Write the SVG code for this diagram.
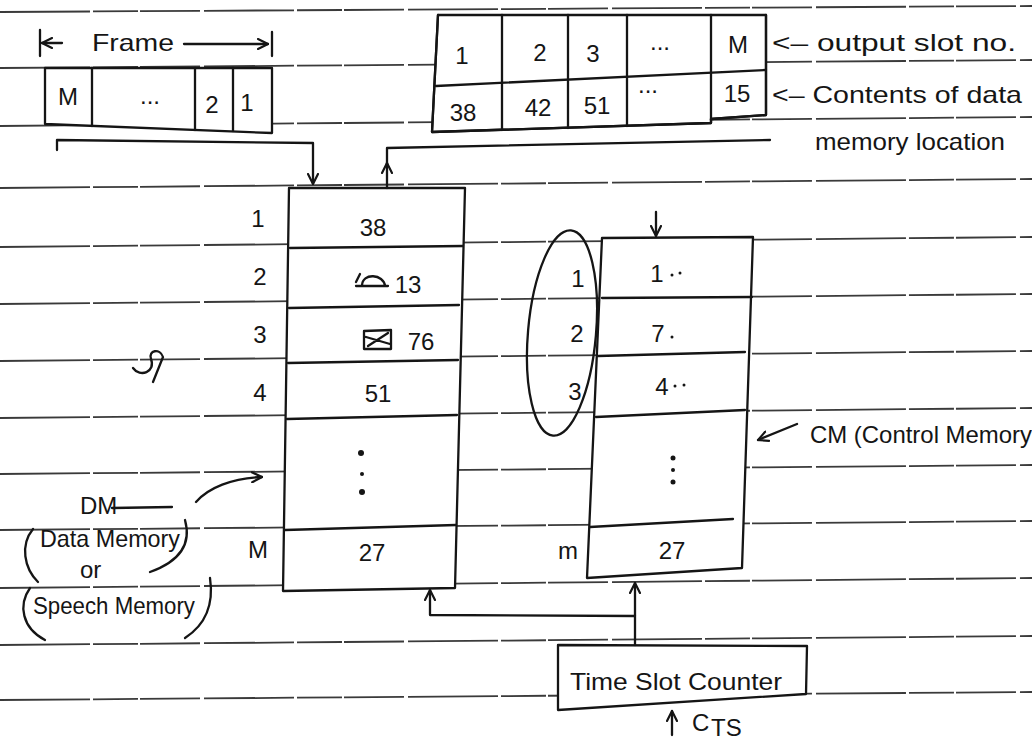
<svg xmlns="http://www.w3.org/2000/svg" width="1032" height="742" viewBox="0 0 1032 742">
<defs>
<style>
.rule{stroke:#3a3a3a;stroke-width:1.8;fill:none;stroke-dasharray:90 3 45 2 60 4}
.ink{stroke:#151515;stroke-width:2.3;fill:none;stroke-linecap:round;stroke-linejoin:round}
.box{stroke:#151515;stroke-width:2.3;fill:#fff;stroke-linejoin:round}
.t{font-family:"Liberation Sans","DejaVu Sans",sans-serif;fill:#151515;font-size:24px}
.c{text-anchor:middle}
.dot{fill:#151515}
</style>
<marker id="ah" viewBox="0 0 12 12" refX="11" refY="6" markerWidth="12" markerHeight="12" markerUnits="userSpaceOnUse" orient="auto">
<path d="M1,1 L11,6 L1,11" fill="none" stroke="#151515" stroke-width="2.2" stroke-linecap="round"/>
</marker>
</defs>
<rect width="1032" height="742" fill="#fff"/>

<g id="ruled-paper">
<path class="rule" d="M0,12 L1032,6"/>
<path class="rule" d="M0,68 L1032,60"/>
<path class="rule" d="M0,126 L1032,117"/>
<path class="rule" d="M0,188 L1032,179"/>
<path class="rule" d="M0,247 L1032,237"/>
<path class="rule" d="M0,304 L1032,294"/>
<path class="rule" d="M0,361 L1032,351"/>
<path class="rule" d="M0,418 L1032,408"/>
<path class="rule" d="M0,474 L1032,465"/>
<path class="rule" d="M0,530 L1032,521"/>
<path class="rule" d="M0,588 L1032,578"/>
<path class="rule" d="M0,645 L1032,636"/>
<path class="rule" d="M0,700 L1032,692"/>
</g>

<g id="frame">
<path class="ink" d="M40,30 L40,56"/>
<path class="ink" d="M62,43 L42,43" marker-end="url(#ah)"/>
<text class="t" x="92" y="51" font-size="25" textLength="82" lengthAdjust="spacingAndGlyphs">Frame</text>
<path class="ink" d="M184,44 L268,44" marker-end="url(#ah)"/>
<path class="ink" d="M272,32 L272,56"/>
<path class="box" d="M45,68 L272,68 L272,133 L45,124 Z"/>
<path class="ink" d="M92,68 L92,126 M195,68 L195,130 M233,68 L233,131"/>
<text class="t c" x="68" y="105" font-size="20">M</text>
<text class="t c" x="150" y="104">...</text>
<text class="t c" x="212" y="113">2</text>
<text class="t c" x="247" y="111">1</text>
</g>

<g id="output-table">
<path class="box" d="M438,15 L766,15 L766,115 L711,119 L711,123 L432,132 Z" stroke="none"/>
<path class="ink" d="M438,15 L432,132 L711,123 L711,119 L766,115 L766,15"/>
<path class="ink" d="M436,86 L766,70"/>
<path class="ink" d="M502,15 L502,130 M568,15 L568,128 M627,15 L627,126 M711,15 L711,120"/>
<text class="t c" x="462" y="64">1</text>
<text class="t c" x="540" y="61">2</text>
<text class="t c" x="593" y="62">3</text>
<text class="t c" x="660" y="50">...</text>
<text class="t c" x="738" y="53">M</text>
<text class="t c" x="463" y="121">38</text>
<text class="t c" x="538" y="116">42</text>
<text class="t c" x="597" y="114">51</text>
<text class="t c" x="648" y="93">...</text>
<text class="t c" x="737" y="102">15</text>
<text class="t" x="772" y="51" textLength="244" lengthAdjust="spacingAndGlyphs">&lt;– output slot no.</text>
<text class="t" x="772" y="103" textLength="250" lengthAdjust="spacingAndGlyphs">&lt;– Contents of data</text>
<text class="t" x="815" y="150" textLength="190" lengthAdjust="spacingAndGlyphs">memory location</text>
</g>

<g id="dm">
<path class="box" d="M289,188 L465,188 L455,588 L283,591 Z"/>
<path class="ink" d="M290,248 L463,246 M289,308 L459,305 M288,363 L458,360 M287,419 L457,415 M285,530 L456,525"/>
<text class="t c" x="258" y="227">1</text>
<text class="t c" x="260" y="285">2</text>
<text class="t c" x="260" y="343">3</text>
<text class="t c" x="260" y="401">4</text>
<text class="t c" x="258" y="558">M</text>
<text class="t c" x="373" y="236">38</text>
<path class="ink" stroke-width="2" d="M356,282 L360,274 M362,286 C362,272 384,274 385,286 Z M356,286 L388,286"/>
<text class="t c" x="408" y="293">13</text>
<path class="ink" stroke-width="2" d="M364,331 L391,330 L391,349 L364,349 Z M366,337 L390,344 M368,346 L388,333"/>
<text class="t c" x="421" y="350">76</text>
<text class="t c" x="378" y="402">51</text>
<circle class="dot" cx="361" cy="453" r="3"/>
<circle class="dot" cx="362" cy="474" r="2"/>
<circle class="dot" cx="362" cy="492" r="3"/>
<text class="t c" x="372" y="561">27</text>
</g>

<g id="cm">
<ellipse class="ink" stroke-width="1.8" cx="562" cy="333" rx="34" ry="103" transform="rotate(5 562 333)"/>
<path class="box" d="M602,238 L753,237 L742,568 L587,578 Z"/>
<path class="ink" d="M602,298 L752,297 M598,356 L745,352 M596,417 L745,410 M590,527 L733,519"/>
<text class="t c" x="578" y="287">1</text>
<text class="t c" x="577" y="342">2</text>
<text class="t c" x="575" y="400">3</text>
<text class="t c" x="568" y="559">m</text>
<text class="t c" x="657" y="282">1</text>
<circle class="dot" cx="672" cy="275" r="1.5"/>
<circle class="dot" cx="680" cy="273" r="1.5"/>
<text class="t c" x="658" y="342">7</text>
<circle class="dot" cx="672" cy="337" r="1.5"/>
<text class="t c" x="662" y="395">4</text>
<circle class="dot" cx="675" cy="386" r="1.5"/>
<circle class="dot" cx="684" cy="385" r="1.5"/>
<circle class="dot" cx="673" cy="458" r="2.5"/>
<circle class="dot" cx="673" cy="470" r="2"/>
<circle class="dot" cx="673" cy="482" r="2.5"/>
<text class="t c" x="672" y="559">27</text>
</g>

<g id="time-slot-counter">
<path class="box" d="M558,645 L807,646 L806,694 L558,710 Z"/>
<text class="t" x="570" y="690" font-size="24" textLength="212" lengthAdjust="spacingAndGlyphs">Time Slot Counter</text>
</g>

<g id="connectors">
<path class="ink" d="M57,150 L57,140 L313,143 L313,184" marker-end="url(#ah)"/>
<path class="ink" d="M387,188 L387,163" marker-end="url(#ah)"/>
<path class="ink" d="M387,166 L387,148 L770,140"/>
<path class="ink" d="M635,645 L635,583" marker-end="url(#ah)"/>
<path class="ink" d="M635,616 L430,615 L430,590" marker-end="url(#ah)"/>
<path class="ink" d="M656,212 L656,236" marker-end="url(#ah)"/>
<path class="ink" d="M672,735 L672,711" marker-end="url(#ah)"/>
</g>

<g id="annotations">
<text class="t" x="80" y="514" font-size="21">DM</text>
<path class="ink" d="M112,508 L172,507"/>
<path class="ink" d="M196,502 C208,488 232,478 262,477" marker-end="url(#ah)"/>
<path class="ink" d="M33,529 C20,545 24,568 38,582"/>
<text class="t" x="40" y="547" font-size="19" textLength="140" lengthAdjust="spacingAndGlyphs">Data Memory</text>
<path class="ink" d="M185,520 C192,545 178,562 150,572"/>
<text class="t" x="80" y="578" font-size="19">or</text>
<path class="ink" d="M30,588 C18,605 22,628 45,640"/>
<text class="t" x="33" y="614" font-size="20" textLength="162" lengthAdjust="spacingAndGlyphs">Speech Memory</text>
<path class="ink" d="M210,578 C214,605 205,625 185,638"/>
<path class="ink" d="M133,368 C140,378 156,372 151,359 C148,350 160,348 163,357 L153,382"/>
<path class="ink" d="M797,424 L758,440" marker-end="url(#ah)"/>
<text class="t" x="810" y="443" font-size="22" textLength="222" lengthAdjust="spacingAndGlyphs">CM (Control Memory</text>
<text class="t" x="692" y="731" font-size="26">C</text>
<text class="t" x="711" y="736" font-size="14">TS</text>
</g>
</svg>
